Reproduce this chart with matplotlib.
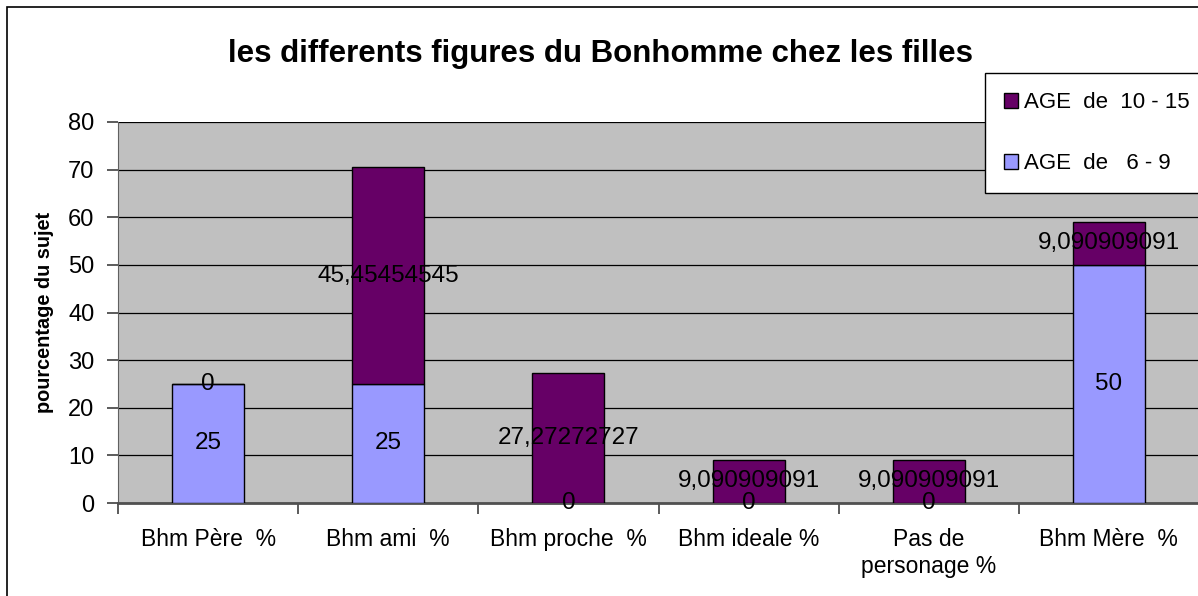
import matplotlib.pyplot as plt
from matplotlib.patches import Rectangle
import numpy as np

categories = ["Bhm Père  %", "Bhm ami  %", "Bhm proche  %", "Bhm ideale %",
              "Pas de\npersonage %", "Bhm Mère  %"]
age_6_9 = [25, 25, 0, 0, 0, 50]
age_10_15 = [0, 45.45454545, 27.27272727, 9.090909091, 9.090909091, 9.090909091]
labels_6_9 = ["25", "25", "0", "0", "0", "50"]
labels_10_15 = ["0", "45,45454545", "27,27272727", "9,090909091", "9,090909091", "9,090909091"]

purple = "#660066"
lavender = "#9999FF"

plt.rcParams['font.family'] = ['Liberation Sans', 'DejaVu Sans']

fig = plt.figure(figsize=(11.98, 5.96), dpi=100)
ax = fig.add_axes([118 / 1198, 1 - 503 / 596, 1081 / 1198, 381 / 596])
ax.set_facecolor("#C0C0C0")

x = np.arange(len(categories))
w = 0.4
ax.bar(x, age_6_9, w, color=lavender, edgecolor="black", linewidth=1, zorder=3,
       label="AGE  de   6 - 9")
ax.bar(x, age_10_15, w, bottom=age_6_9, color=purple, edgecolor="black", linewidth=1,
       zorder=3, label="AGE  de  10 - 15")

for i in range(len(categories)):
    ax.text(x[i], age_6_9[i] / 2, labels_6_9[i], ha="center", va="center",
            fontsize=17.5, zorder=5)
    ax.text(x[i], age_6_9[i] + age_10_15[i] / 2, labels_10_15[i], ha="center",
            va="center", fontsize=17.5, zorder=5)

ax.set_xlim(-0.5, len(categories) - 0.5)
ax.set_ylim(0, 80)
ax.set_yticks(range(0, 81, 10))
ax.yaxis.grid(True, color="black", linewidth=0.9, zorder=1)
ax.set_axisbelow(True)

ax.set_xticks(np.arange(-0.5, len(categories), 1.0))
ax.set_xticklabels([])
ax.set_xticks(x, minor=True)
ax.set_xticklabels(categories, minor=True, fontsize=16.5)
ax.tick_params(axis="x", which="minor", length=0, pad=18)
ax.tick_params(axis="x", which="major", length=8, width=1.2, color="#404040")
ax.tick_params(axis="y", length=8, width=1.2, color="#404040", labelsize=17, pad=9)
for lbl in ax.get_xticklabels(minor=True):
    lbl.set_verticalalignment("top")
    lbl.set_linespacing(1.2)

for s in ["top", "right"]:
    ax.spines[s].set_visible(False)
ax.spines["left"].set_color("#606060")
ax.spines["bottom"].set_color("#505050")
ax.spines["bottom"].set_linewidth(2)

ax.set_ylabel("pourcentage du sujet", fontsize=14.3, fontweight="bold", labelpad=10)

fig.text(600 / 1198, 1 - 54 / 596, "les differents figures du Bonhomme chez les filles",
         ha="center", va="center", fontsize=22.5, fontweight="bold")

handles, labs = ax.get_legend_handles_labels()
leg = fig.legend(handles[::-1], labs[::-1], loc="upper left",
                 bbox_to_anchor=(985 / 1198, 1 - 73 / 596), fontsize=16,
                 frameon=True, fancybox=False, edgecolor="black", framealpha=1,
                 handlelength=0.65, handleheight=0.65, handletextpad=0.25,
                 labelspacing=1.8, borderpad=0.85, borderaxespad=0)
leg.get_frame().set_linewidth(1)

fig.patches.append(Rectangle((7 / 1198, -0.1), 1.2, 1 - 7 / 596 + 0.1,
                             transform=fig.transFigure, fill=False,
                             edgecolor="black", linewidth=1.2, zorder=0))

fig.savefig("out.png", dpi=100)
